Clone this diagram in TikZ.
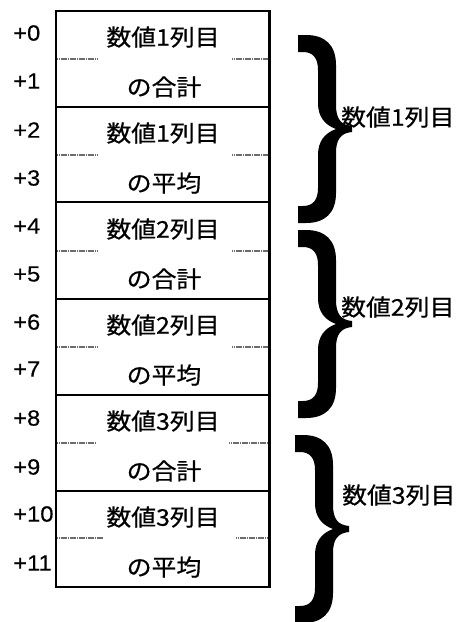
\documentclass[tikz,border=0pt]{standalone}
\usepackage{fontspec}
\setmainfont{Liberation Sans}[FakeBold=0.4]
\newfontfamily\cjk{Noto Sans CJK JP}[FakeBold=0.6]
\newcommand\sx[1]{\scalebox{1.08}[1]{#1}}
\newcommand\sy[1]{\scalebox{1.08}[1]{#1}}
\tikzset{
  cellline/.style={line width=2pt},
  midline/.style={draw=gray!85!black, line width=1.6pt, dash pattern=on 1.3pt off 0.5pt},
  offs/.style={anchor=west, inner sep=0pt, font=\fontsize{22}{22}\selectfont},
  cjktext/.style={inner sep=0pt, font=\cjk\fontsize{23}{23}\selectfont},
  curly/.pic={
    \fill (0,0) -- (8,0) .. controls (27,0) and (38,10) .. (38,30)
      -- (38,70) .. controls (38,84) and (43,90) .. (54,91)
      -- (54,97) .. controls (43,98) and (38,104) .. (38,118)
      -- (38,158) .. controls (38,178) and (27,188) .. (8,188) -- (0,188)
      -- (0,171) -- (5,171) .. controls (15,171) and (20,165) .. (20,153)
      -- (20,120) .. controls (20,106) and (27,98) .. (38,94)
      .. controls (27,90) and (20,82) .. (20,68)
      -- (20,35) .. controls (20,23) and (15,17) .. (5,17) -- (0,17) -- cycle;
  }
}
\begin{document}
\begin{tikzpicture}[x=1pt,y=-1pt]
\useasboundingbox (0,0) rectangle (460,622);
% cells
\draw[cellline] (56,11) rectangle (269,587);
\draw[line width=3pt] (269,10) -- (269,588);
\foreach \yy in {107,202,299,395,491}{\draw[cellline] (56,\yy) -- (269,\yy);}
% mid dashed segments
\draw[midline] (57,59) -- (98,59) (232,59) -- (268,59);
\draw[midline] (57,155) -- (98,155) (232,155) -- (268,155);
\draw[midline] (57,251) -- (98,251) (232,251) -- (268,251);
\draw[midline] (57,347) -- (98,347) (232,347) -- (268,347);
\draw[midline] (57,443) -- (95,443) (229,443) -- (268,443);
\draw[midline] (57,538) -- (103,538) (236,538) -- (268,538);
% offsets
\node[offs] (o0) at (13,33) {\sy{+0}};
\node[offs] (o1) at (13,81) {\sy{+1}};
\node[offs] (o2) at (13,130) {\sy{+2}};
\node[offs] (o3) at (13,178) {\sy{+3}};
\node[offs] (o4) at (13,226) {\sy{+4}};
\node[offs] (o5) at (13,274) {\sy{+5}};
\node[offs] (o6) at (13,322) {\sy{+6}};
\node[offs] (o7) at (13,369) {\sy{+7}};
\node[offs] (o8) at (13,418) {\sy{+8}};
\node[offs] (o9) at (13,467) {\sy{+9}};
\node[offs] (o10) at (13,514) {\sy{+10}};
\node[offs] (o11) at (13,563) {\sy{+11}};
% cell texts
\node[cjktext] (c1a) at (163,37) {\sx{数値1列目}};
\node[cjktext] (c1b) at (164,87) {\sx{の合計}};
\node[cjktext] (c2a) at (163,133) {\sx{数値1列目}};
\node[cjktext] (c2b) at (164,183) {\sx{の平均}};
\node[cjktext] (c3a) at (163,229) {\sx{数値2列目}};
\node[cjktext] (c3b) at (164,279) {\sx{の合計}};
\node[cjktext] (c4a) at (163,325) {\sx{数値2列目}};
\node[cjktext] (c4b) at (164,375) {\sx{の平均}};
\node[cjktext] (c5a) at (163,421) {\sx{数値3列目}};
\node[cjktext] (c5b) at (164,471) {\sx{の合計}};
\node[cjktext] (c6a) at (163,517) {\sx{数値3列目}};
\node[cjktext] (c6b) at (164,567) {\sx{の平均}};
% braces
\pic at (298,35) {curly};
\begin{scope}[shift={(298,230)}, yscale=1.01]
\pic {curly};
\end{scope}
\begin{scope}[shift={(295,435)}, xscale=0.96, yscale=0.995]
\pic {curly};
\end{scope}
% group labels
\node[cjktext, anchor=west] (g1) at (341,117) {\sx{数値1列目}};
\node[cjktext, anchor=west] (g2) at (341,307) {\sx{数値2列目}};
\node[cjktext, anchor=west] (g3) at (342,495) {\sx{数値3列目}};
\end{tikzpicture}
\end{document}
